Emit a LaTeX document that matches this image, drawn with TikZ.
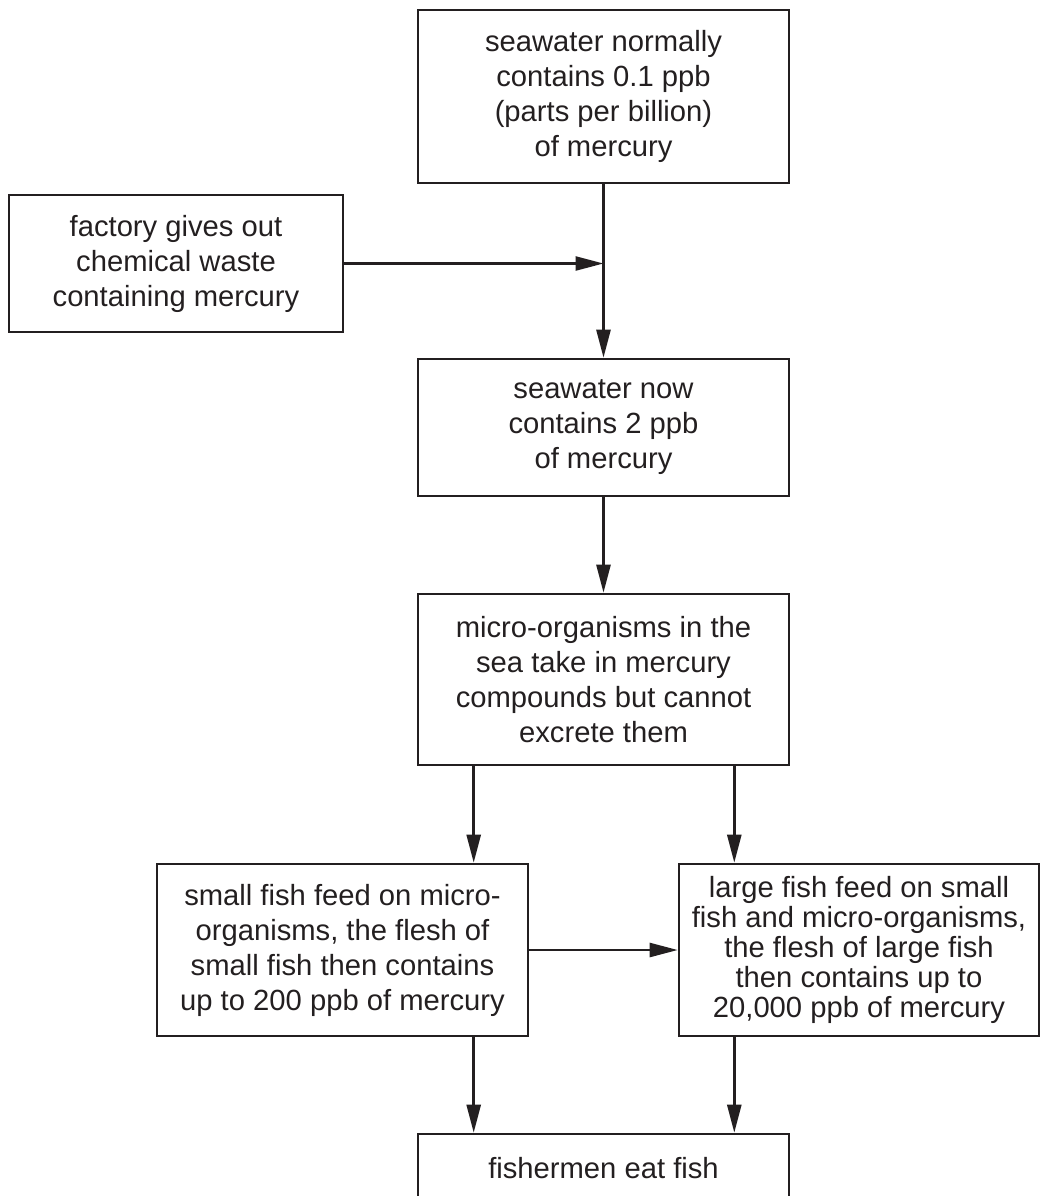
\documentclass[tikz,border=0pt]{standalone}
\usepackage{fontspec}
\setmainfont{Liberation Sans}
\usepackage{xcolor}
\definecolor{ink}{RGB}{35,31,32}
\usetikzlibrary{arrows.meta,positioning}
\tikzset{>={Triangle[length=14pt,width=7pt]}}
\tikzset{
  stage/.style={draw=ink,line width=1.3pt,text=ink,align=center,inner sep=0pt,
    font=\fontsize{14.6}{17.5}\selectfont},
  flow/.style={->,draw=ink,line width=1.25pt}
}

\begin{document}
\begin{tikzpicture}[x=0.5pt,y=-0.5pt]
    \useasboundingbox (0,0) rectangle (1041,1196);
    % boxes
    \node[stage,minimum width=185.5pt,minimum height=86.5pt] (normal) at (603.5,96.5)
        {seawater normally\\contains 0.1 ppb\\(parts per billion)\\of mercury};
    \node[stage,minimum width=167pt,minimum height=68.5pt] (factory) at (176,263.5)
        {factory gives out\\chemical waste\\containing mercury};
    \node[stage,minimum width=185.5pt,minimum height=68.5pt] (polluted) at (603.5,427.5)
        {seawater now\\contains 2 ppb\\of mercury};
    \node[stage,minimum width=185.5pt,minimum height=85.5pt] (micro) at (603.5,679.5)
        {micro-organisms in the\\sea take in mercury\\compounds but cannot\\excrete them};
    \node[stage,minimum width=185.5pt,minimum height=86pt] (small) at (342.5,950)
        {small fish feed on micro-\\organisms, the flesh of\\small fish then contains\\up to 200 ppb of mercury};
    \node[stage,minimum width=180pt,minimum height=86pt,
          font=\fontsize{14.6}{15}\selectfont] (large) at (859,950)
        {large fish feed on small\\fish and micro-organisms,\\the flesh of large fish\\then contains up to\\20,000 ppb of mercury};
    \node[stage,minimum width=185.5pt,minimum height=34pt] (eat) at (603.5,1168)
        {fishermen eat fish};
    % connectors
    \coordinate (join) at (normal.south |- factory.east);
    \coordinate (split l) at ([xshift=28.5pt]micro.south west);
    \coordinate (split r) at ([xshift=-28pt]micro.south east);
    \draw[flow] (normal.south) -- (polluted.north);
    \draw[flow] (factory.east) -- (join);
    \draw[flow] (polluted.south) -- (micro.north);
    \draw[flow] (split l) -- (split l |- small.north);
    \draw[flow] (split r) -- (split r |- large.north);
    \draw[flow] (small.east) -- (large.west);
    \draw[flow] (split l |- small.south) -- (split l |- eat.north);
    \draw[flow] (split r |- large.south) -- (split r |- eat.north);
\end{tikzpicture}
\end{document}
